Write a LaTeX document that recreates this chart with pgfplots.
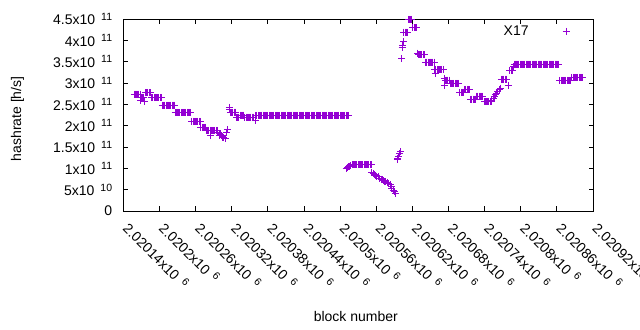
\documentclass[border=0pt]{standalone}
\usepackage{pgfplots}
\pgfplotsset{compat=1.18}
\usepackage{fontspec}
\setmainfont{Liberation Sans}
\definecolor{gpviolet}{RGB}{148,0,211}
\newcommand{\E}[1]{\hspace{6bp}\raisebox{4.5bp}{\fontsize{10.5bp}{10.5bp}\selectfont #1}}
\begin{document}
\begin{tikzpicture}
\useasboundingbox (0,0) rectangle (640bp,330bp);
\clip (0,0) rectangle (640bp,330bp);
\begin{axis}[
  at={(123.3bp,119bp)}, anchor=south west,
  scale only axis, width=469.7bp, height=192bp,
  xmin=2020140, xmax=2020920, ymin=0, ymax=4.5e11,
  scaled ticks=false,
  axis line style={line width=0.8bp},
  tick align=inside, major tick length=4.5bp,
  tick style={line width=0.8bp, black},
  xtick={2020140,2020200,2020260,2020320,2020380,2020440,2020500,2020560,2020620,2020680,2020740,2020800,2020860,2020920},
  xticklabels={2.02014x10\E6,2.0202x10\E6,2.02026x10\E6,2.02032x10\E6,2.02038x10\E6,2.02044x10\E6,2.0205x10\E6,2.02056x10\E6,2.02062x10\E6,2.02068x10\E6,2.02074x10\E6,2.0208x10\E6,2.02086x10\E6,2.02092x10\E6},
  ytick={0,0.5e11,1e11,1.5e11,2e11,2.5e11,3e11,3.5e11,4e11,4.5e11},
  yticklabels={0,5x10\E{10},1x10\E{11},1.5x10\E{11},2x10\E{11},2.5x10\E{11},3x10\E{11},3.5x10\E{11},4x10\E{11},4.5x10\E{11}},
  tick label style={font=\fontsize{14bp}{16bp}\selectfont},
  xticklabel style={rotate=-45, anchor=north west, inner sep=0pt, xshift=12bp, yshift=-2bp},
  yticklabel style={anchor=east, inner sep=0pt, xshift=-11bp},
  label style={font=\fontsize{14bp}{16bp}\selectfont},
  xlabel={block number},
  xlabel style={at={(axis description cs:0.495,-0.547)}, anchor=center},
  ylabel={hashrate [h/s]},
  ylabel style={at={(axis description cs:-0.225,0.48)}, anchor=center, rotate=0},
  legend style={draw=none, fill=none, legend plot pos=right, font=\fontsize{14bp}{16bp}\selectfont,
    at={(axis description cs:0.957,0.935)}, anchor=east,
    /tikz/every odd column/.append style={column sep=32bp}},
]
\addplot[only marks, mark=+, mark size=3.5bp, color=gpviolet,
  mark options={line width=1bp, draw=gpviolet, solid}] coordinates {
(2020158,2.74e11)(2020160,2.74e11)(2020162,2.74e11)(2020164,2.74e11)(2020166,2.74e11)(2020168,2.74e11)
(2020169,2.60e11)(2020170,2.67e11)(2020172,2.67e11)(2020174,2.67e11)(2020176,2.56e11)
(2020177,2.77e11)(2020179,2.77e11)(2020181,2.77e11)(2020183,2.77e11)(2020185,2.77e11)
(2020187,2.65e11)(2020189,2.65e11)(2020191,2.65e11)(2020193,2.65e11)(2020195,2.65e11)(2020197,2.65e11)(2020199,2.65e11)(2020201,2.65e11)(2020203,2.65e11)
(2020205,2.48e11)(2020207,2.48e11)(2020209,2.48e11)(2020211,2.48e11)(2020213,2.48e11)(2020215,2.48e11)(2020217,2.48e11)(2020219,2.48e11)(2020221,2.48e11)(2020223,2.48e11)(2020225,2.48e11)
(2020226,2.31e11)(2020228,2.31e11)(2020230,2.31e11)(2020232,2.31e11)(2020234,2.31e11)(2020236,2.31e11)(2020238,2.31e11)(2020240,2.31e11)(2020242,2.31e11)(2020244,2.31e11)(2020246,2.31e11)(2020248,2.31e11)(2020250,2.31e11)(2020252,2.31e11)
(2020254,2.10e11)(2020256,2.10e11)(2020258,2.10e11)(2020260,2.10e11)(2020262,2.10e11)(2020264,2.10e11)(2020266,2.10e11)(2020268,2.10e11)
(2020269,1.96e11)(2020271,1.96e11)(2020273,1.96e11)(2020275,1.96e11)(2020277,1.96e11)
(2020278,1.89e11)(2020280,1.89e11)(2020282,1.89e11)(2020284,1.89e11)(2020286,1.89e11)(2020288,1.89e11)(2020290,1.89e11)(2020292,1.89e11)(2020294,1.89e11)(2020296,1.89e11)
(2020285,1.78e11)
(2020297,1.84e11)(2020299,1.81e11)(2020300,1.77e11)(2020301,1.79e11)(2020303,1.76e11)(2020304,1.72e11)(2020305,1.75e11)(2020307,1.73e11)(2020309,1.71e11)(2020310,1.69e11)
(2020312,1.84e11)(2020313,1.90e11)
(2020316,2.43e11)(2020317,2.39e11)
(2020318,2.32e11)(2020320,2.32e11)(2020322,2.32e11)(2020324,2.32e11)(2020326,2.32e11)
(2020328,2.20e11)(2020330,2.20e11)(2020332,2.20e11)
(2020334,2.25e11)(2020336,2.25e11)(2020338,2.25e11)(2020340,2.25e11)
(2020342,2.20e11)(2020344,2.20e11)(2020346,2.20e11)(2020348,2.20e11)(2020350,2.20e11)(2020352,2.20e11)(2020354,2.20e11)(2020356,2.20e11)
(2020359,2.12e11)
(2020360,2.24e11)(2020362,2.24e11)(2020364,2.24e11)(2020366,2.24e11)(2020368,2.24e11)(2020370,2.24e11)(2020372,2.24e11)(2020374,2.24e11)(2020376,2.24e11)(2020378,2.24e11)
(2020380,2.24e11)(2020382,2.24e11)(2020384,2.24e11)(2020386,2.24e11)(2020388,2.24e11)(2020390,2.24e11)(2020392,2.24e11)(2020394,2.24e11)(2020396,2.24e11)(2020398,2.24e11)
(2020400,2.24e11)(2020402,2.24e11)(2020404,2.24e11)(2020406,2.24e11)(2020408,2.24e11)(2020410,2.24e11)(2020412,2.24e11)(2020414,2.24e11)(2020416,2.24e11)(2020418,2.24e11)
(2020420,2.24e11)(2020422,2.24e11)(2020424,2.24e11)(2020426,2.24e11)(2020428,2.24e11)(2020430,2.24e11)(2020432,2.24e11)(2020434,2.24e11)(2020436,2.24e11)(2020438,2.24e11)
(2020440,2.24e11)(2020442,2.24e11)(2020444,2.24e11)(2020446,2.24e11)(2020448,2.24e11)(2020450,2.24e11)(2020452,2.24e11)(2020454,2.24e11)(2020456,2.24e11)(2020458,2.24e11)
(2020460,2.24e11)(2020462,2.24e11)(2020464,2.24e11)(2020466,2.24e11)(2020468,2.24e11)(2020470,2.24e11)(2020472,2.24e11)(2020474,2.24e11)(2020476,2.24e11)(2020478,2.24e11)
(2020480,2.24e11)(2020482,2.24e11)(2020484,2.24e11)(2020486,2.24e11)(2020488,2.24e11)(2020490,2.24e11)(2020492,2.24e11)(2020494,2.24e11)(2020496,2.24e11)(2020498,2.24e11)
(2020500,2.24e11)(2020502,2.24e11)(2020504,2.24e11)(2020506,2.24e11)(2020508,2.24e11)(2020510,2.24e11)(2020512,2.24e11)(2020514,2.24e11)
(2020510,1.00e11)(2020512,1.02e11)(2020514,1.04e11)(2020516,1.05e11)(2020518,1.06e11)
(2020520,1.08e11)(2020522,1.08e11)(2020524,1.08e11)(2020526,1.08e11)(2020528,1.08e11)(2020530,1.08e11)(2020532,1.08e11)(2020534,1.08e11)(2020536,1.08e11)(2020538,1.08e11)
(2020540,1.08e11)(2020542,1.08e11)(2020544,1.08e11)(2020546,1.08e11)(2020548,1.08e11)(2020550,1.08e11)(2020552,1.08e11)
(2020553,0.90e11)(2020555,0.87e11)(2020557,0.85e11)(2020559,0.83e11)(2020561,0.82e11)(2020563,0.80e11)(2020566,0.77e11)(2020568,0.75e11)(2020570,0.73e11)(2020572,0.71e11)
(2020574,0.69e11)(2020576,0.68e11)(2020578,0.66e11)(2020580,0.64e11)(2020583,0.61e11)(2020585,0.57e11)(2020586,0.53e11)(2020588,0.48e11)(2020590,0.45e11)(2020592,0.41e11)
(2020595,1.20e11)(2020596,1.24e11)(2020597,1.27e11)(2020599,1.34e11)(2020600,1.39e11)
(2020602,3.58e11)(2020603,3.84e11)(2020604,3.89e11)(2020605,3.97e11)
(2020606,4.19e11)(2020608,4.19e11)(2020610,4.19e11)(2020612,4.19e11)
(2020613,4.49e11)(2020615,4.49e11)(2020617,4.49e11)(2020619,4.49e11)
(2020621,4.30e11)(2020623,4.30e11)(2020625,4.30e11)(2020627,4.30e11)
(2020629,3.70e11)(2020630,3.66e11)(2020632,3.66e11)(2020634,3.66e11)(2020636,3.66e11)(2020638,3.66e11)(2020640,3.66e11)
(2020642,3.49e11)(2020644,3.49e11)(2020646,3.49e11)(2020648,3.49e11)(2020650,3.49e11)(2020652,3.49e11)(2020654,3.49e11)(2020656,3.49e11)
(2020657,3.31e11)(2020659,3.31e11)(2020661,3.31e11)(2020663,3.31e11)(2020665,3.31e11)(2020667,3.31e11)(2020669,3.31e11)(2020671,3.31e11)(2020658,3.23e11)
(2020674,3.11e11)(2020674,2.95e11)(2020675,3.07e11)(2020677,3.07e11)(2020679,3.07e11)(2020681,3.07e11)
(2020683,2.99e11)(2020685,2.99e11)(2020687,2.99e11)(2020689,2.99e11)(2020691,2.99e11)(2020693,2.99e11)(2020695,2.99e11)(2020697,2.99e11)
(2020699,2.78e11)(2020701,2.78e11)(2020703,2.78e11)(2020705,2.78e11)
(2020707,2.85e11)(2020709,2.85e11)(2020711,2.85e11)(2020713,2.85e11)(2020715,2.85e11)
(2020717,2.62e11)(2020719,2.62e11)(2020721,2.62e11)(2020723,2.62e11)(2020725,2.62e11)
(2020727,2.69e11)(2020729,2.69e11)(2020731,2.69e11)(2020733,2.69e11)(2020735,2.69e11)(2020737,2.69e11)
(2020739,2.56e11)(2020741,2.56e11)(2020743,2.56e11)(2020745,2.56e11)(2020747,2.56e11)(2020749,2.56e11)(2020751,2.56e11)
(2020752,2.60e11)(2020754,2.64e11)(2020756,2.68e11)(2020758,2.72e11)(2020760,2.75e11)(2020762,2.79e11)(2020764,2.84e11)(2020766,2.88e11)
(2020768,3.09e11)(2020770,3.09e11)(2020772,3.09e11)(2020774,3.09e11)(2020776,3.09e11)(2020779,2.95e11)
(2020782,3.30e11)(2020784,3.30e11)(2020786,3.30e11)(2020788,3.38e11)
(2020789,3.44e11)(2020791,3.44e11)(2020793,3.44e11)(2020795,3.44e11)(2020797,3.44e11)(2020799,3.44e11)(2020801,3.44e11)(2020803,3.44e11)(2020805,3.44e11)(2020807,3.44e11)
(2020809,3.44e11)(2020811,3.44e11)(2020813,3.44e11)(2020815,3.44e11)(2020817,3.44e11)(2020819,3.44e11)(2020821,3.44e11)(2020823,3.44e11)(2020825,3.44e11)(2020827,3.44e11)
(2020829,3.44e11)(2020831,3.44e11)(2020833,3.44e11)(2020835,3.44e11)(2020837,3.44e11)(2020839,3.44e11)(2020841,3.44e11)(2020843,3.44e11)(2020845,3.44e11)(2020847,3.44e11)
(2020849,3.44e11)(2020851,3.44e11)(2020853,3.44e11)(2020855,3.44e11)(2020857,3.44e11)(2020859,3.44e11)(2020861,3.44e11)(2020863,3.44e11)
(2020865,3.06e11)(2020867,3.06e11)(2020869,3.06e11)(2020871,3.06e11)(2020873,3.06e11)(2020875,3.06e11)(2020877,3.06e11)(2020879,3.06e11)(2020881,3.06e11)(2020883,3.06e11)
(2020885,3.13e11)(2020887,3.13e11)(2020889,3.13e11)(2020891,3.13e11)(2020893,3.13e11)(2020895,3.13e11)(2020897,3.13e11)(2020899,3.13e11)(2020901,3.13e11)(2020903,3.13e11)
};
\addlegendentry{X17}
\end{axis}
\end{tikzpicture}
\end{document}
